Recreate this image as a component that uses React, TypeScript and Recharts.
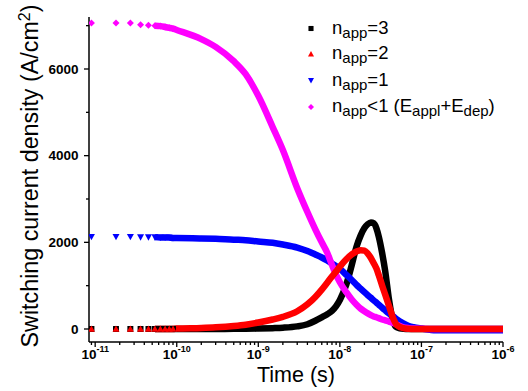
import { ComposedChart, Line, Scatter, XAxis, YAxis } from "recharts";

const FONT = '"Liberation Sans", Arial, Helvetica, sans-serif';
const BLACK = "#000000";
const RED = "#FF0000";
const BLUE = "#0000FF";
const MAGENTA = "#FF00FF";

// time axis (s)
const TIME = [
  9e-12, 1.8e-11, 2.7e-11, 3.6e-11, 4.5e-11, 5.4e-11, 6.3e-11, 7.2e-11, 8.1e-11, 9e-11,
  1e-10, 2e-10, 3e-10, 5e-10, 7e-10,
  1e-9, 1.5e-9, 2e-9, 3e-9, 4e-9, 5e-9, 6e-9, 7e-9, 8e-9, 9e-9,
  1e-8, 1.2e-8, 1.4e-8, 1.6e-8, 1.8e-8, 2e-8, 2.2e-8, 2.4e-8, 2.6e-8, 2.8e-8,
  3e-8, 3.3e-8, 3.6e-8, 4e-8, 4.5e-8, 5e-8, 6e-8, 7e-8, 8e-8,
  1e-7, 1.5e-7, 2e-7, 3e-7, 5e-7, 1e-6,
];

// switching current density (A/cm2)
const N_APP_3 = [
  0, 0, 0, 0, 0, 0, 0, 0, 0, 0,
  0, 0, 0, 5, 5,
  10, 20, 30, 60, 110, 190, 270, 340, 420, 530,
  670, 1030, 1480, 1900, 2160, 2330, 2420, 2460, 2440, 2330,
  2130, 1750, 1330, 680, 170, 40, 5, 0, 0,
  0, 0, 0, 0, 0, 0,
];
const N_APP_2 = [
  0, 0, 0, 0, 0, 0, 0, 0, 0, 0,
  10, 25, 40, 70, 100,
  150, 220, 280, 410, 570, 740, 910, 1070, 1210, 1330,
  1440, 1610, 1720, 1790, 1820, 1810, 1740, 1640, 1520, 1400,
  1240, 1000, 790, 530, 250, 90, 20, 5, 0,
  0, 0, 0, 0, 0, 0,
];
const N_APP_1 = [
  2130, 2130, 2130, 2120, 2120, 2120, 2110, 2110, 2110, 2100,
  2100, 2090, 2080, 2060, 2050,
  2020, 1990, 1950, 1880, 1800, 1720, 1650, 1580, 1510, 1450,
  1390, 1250, 1130, 1020, 930, 850, 780, 720, 660, 610,
  560, 490, 430, 360, 290, 220, 130, 70, 40,
  10, -30, -30, -30, -30, -30,
];
const N_APP_LT1 = [
  7060, 7060, 7060, 7020, 7010, 7000, 6990, 6970, 6950, 6930,
  6900, 6690, 6510, 6180, 5880,
  5380, 4660, 4130, 3250, 2700, 2300, 2000, 1760, 1480, 1250,
  1080, 850, 680, 560, 470, 410, 360, 320, 290, 270,
  250, 220, 200, 170, 140, 100, 40, 20, 10,
  5, 0, 0, 0, 0, 0,
];

const X_MAJOR = [1e-11, 1e-10, 1e-9, 1e-8, 1e-7, 1e-6];
const X_DOMAIN = [8.4e-12, 1e-6];
const Y_TICKS = [0, 1000, 2000, 3000, 4000, 5000, 6000, 7000];
const Y_DOMAIN = [-300, 7200];

const X_MINOR: number[] = [];
[1e-12, 1e-11, 1e-10, 1e-9, 1e-8, 1e-7].forEach((d) => {
  for (let m = 2; m <= 9; m++) {
    const v = m * d;
    if (v >= X_DOMAIN[0] && v <= X_DOMAIN[1]) X_MINOR.push(v);
  }
});
const X_TICKS = [...X_MAJOR, ...X_MINOR].sort((a, b) => a - b);

const SPARSE = 10; // first points drawn as separate markers
const LINE_FROM = 5; // the rest is so dense it reads as a thick line

// drawing order: last one ends up on top
const SERIES = [
  { name: "n3", values: N_APP_3, color: BLACK, shape: "square" },
  { name: "n1", values: N_APP_1, color: BLUE, shape: "down" },
  { name: "nlt1", values: N_APP_LT1, color: MAGENTA, shape: "diamond" },
  { name: "n2", values: N_APP_2, color: RED, shape: "up" },
];

function markerPath(shape: string, cx: number, cy: number, s: number) {
  const h = s / 2;
  if (shape === "square") return `M${cx - h * 0.85},${cy - h * 0.85}h${s * 0.85}v${s * 0.85}h${-s * 0.85}Z`;
  if (shape === "up") return `M${cx},${cy - h}L${cx + h},${cy + h * 0.8}L${cx - h},${cy + h * 0.8}Z`;
  if (shape === "down") return `M${cx},${cy + h}L${cx + h},${cy - h * 0.8}L${cx - h},${cy - h * 0.8}Z`;
  return `M${cx},${cy - h}L${cx + h},${cy}L${cx},${cy + h}L${cx - h},${cy}Z`;
}

const XTick = (props: any) => {
  const { x, y, payload } = props;
  const lg = Math.log10(payload.value);
  const major = Math.abs(lg - Math.round(lg)) < 1e-6;
  return (
    <g>
      <line x1={x} x2={x} y1={y} y2={y + (major ? 5 : 3)} stroke={BLACK} strokeWidth={1.3} />
      {major && (
        <text x={x} y={y + 17} textAnchor="middle" fontFamily={FONT} fontWeight="bold" fontSize={13.5} fill={BLACK}>
          10
          <tspan dy={-7} fontSize={9}>
            {Math.round(lg)}
          </tspan>
        </text>
      )}
    </g>
  );
};

const YTick = (props: any) => {
  const { x, y, payload } = props;
  const major = payload.value % 2000 === 0;
  return (
    <g>
      <line x1={x - (major ? 5 : 3)} x2={x} y1={y} y2={y} stroke={BLACK} strokeWidth={1.3} />
      {major && (
        <text x={x - 10.5} y={y + 4.8} textAnchor="end" fontFamily={FONT} fontWeight="bold" fontSize={13.5} fill={BLACK}>
          {payload.value}
        </text>
      )}
    </g>
  );
};

const LEGEND = [
  { color: BLACK, shape: "square", y: 28.5 },
  { color: RED, shape: "up", y: 54 },
  { color: BLUE, shape: "down", y: 80.5 },
  { color: MAGENTA, shape: "diamond", y: 107 },
];

function Overlay() {
  const sub = { fontSize: 15 };
  return (
    <svg width={528} height={391} style={{ position: "absolute", left: 0, top: 0, pointerEvents: "none" }}>
      <g fontFamily={FONT} fill={BLACK}>
        {LEGEND.map((l, i) => (
          <path key={i} d={markerPath(l.shape, 311, l.y, 6)} fill={l.color} />
        ))}
        <text x={332} y={33.5} fontSize={18.5}>
          n<tspan dy={4} {...sub}>app</tspan><tspan dy={-4}>=3</tspan>
        </text>
        <text x={332} y={59} fontSize={18.5}>
          n<tspan dy={4} {...sub}>app</tspan><tspan dy={-4}>=2</tspan>
        </text>
        <text x={332} y={85.5} fontSize={18.5}>
          n<tspan dy={4} {...sub}>app</tspan><tspan dy={-4}>=1</tspan>
        </text>
        <text x={332} y={112} fontSize={18.5}>
          n<tspan dy={4} {...sub}>app</tspan><tspan dy={-4}>{"<1 (E"}</tspan>
          <tspan dy={4} {...sub}>appl</tspan><tspan dy={-4}>+E</tspan>
          <tspan dy={4} {...sub}>dep</tspan><tspan dy={-4}>)</tspan>
        </text>
        <text x={296} y={381.5} textAnchor="middle" fontSize={21.5}>
          Time (s)
        </text>
        <text transform="translate(38,176) rotate(-90)" textAnchor="middle" fontSize={23.3}>
          Switching current density (A/cm<tspan dy={-8.5} fontSize={16}>2</tspan>
          <tspan dy={8.5}>)</tspan>
        </text>
      </g>
    </svg>
  );
}

export default function App() {
  return (
    <div style={{ position: "absolute", left: 0, top: 0, width: 528, height: 391, background: "#fff" }}>
      <ComposedChart width={528} height={391} margin={{ top: 17, right: 25, left: 0, bottom: 0 }}>
        <XAxis
          dataKey="t"
          type="number"
          scale="log"
          domain={X_DOMAIN}
          allowDataOverflow
          ticks={X_TICKS}
          interval={0}
          height={49}
          tickSize={0}
          tickMargin={0}
          tickLine={false}
          axisLine={{ stroke: BLACK, strokeWidth: 1.5 }}
          tick={<XTick />}
        />
        <YAxis
          dataKey="v"
          type="number"
          domain={Y_DOMAIN}
          allowDataOverflow
          ticks={Y_TICKS}
          interval={0}
          width={89}
          tickSize={0}
          tickMargin={0}
          tickLine={false}
          axisLine={{ stroke: BLACK, strokeWidth: 1.5 }}
          tick={<YTick />}
        />
        {SERIES.map((s) => {
          const pts = TIME.map((t, i) => ({ t, v: s.values[i] }));
          return [
            <Line
              key={s.name + "-line"}
              data={pts.slice(LINE_FROM)}
              dataKey="v"
              type="monotone"
              stroke={s.color}
              strokeWidth={6.5}
              strokeLinejoin="round"
              dot={false}
              activeDot={false}
              isAnimationActive={false}
            />,
            <Scatter
              key={s.name + "-pts"}
              data={pts.slice(0, SPARSE)}
              dataKey="v"
              fill={s.color}
              isAnimationActive={false}
              shape={(p: any) => <path d={markerPath(s.shape, p.cx, p.cy, 7)} fill={s.color} />}
            />,
          ];
        })}
      </ComposedChart>
      <Overlay />
    </div>
  );
}
